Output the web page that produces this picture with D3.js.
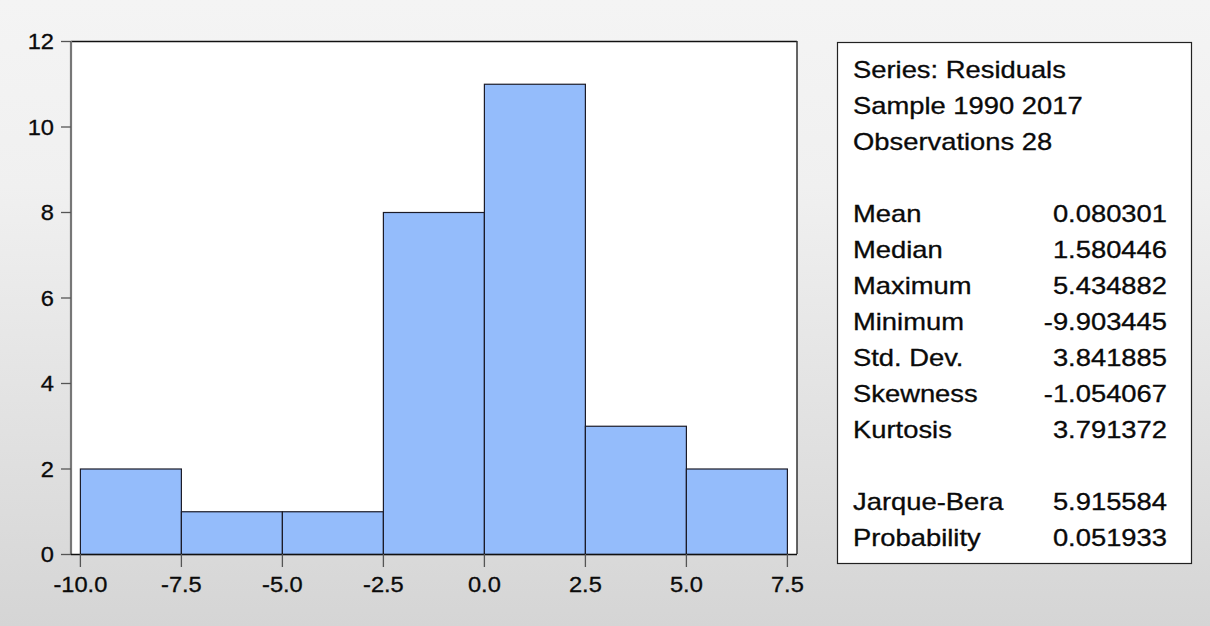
<!DOCTYPE html>
<html>
<head>
<meta charset="utf-8">
<script src="https://cdn.jsdelivr.net/npm/d3@7"></script>
<style>
  html, body { margin: 0; padding: 0; background: #e6e6e6; }
  svg { display: block; }
  text { font-family: "Liberation Sans", Arial, sans-serif; fill: #0a0a0a; stroke: #0a0a0a; stroke-width: 0.3px; }
</style>
</head>
<body>
<svg id="chart" width="1210" height="626"></svg>
<script>
// Histogram of residuals: bin edges and counts
const binStarts = [-10.0, -7.5, -5.0, -2.5, 0.0, 2.5, 5.0];
const binWidth = 2.5;
const binCounts = [2, 1, 1, 8, 11, 3, 2];

// Axis ticks
const xTickValues = [-10.0, -7.5, -5.0, -2.5, 0.0, 2.5, 5.0, 7.5];
const yTickValues = [0, 2, 4, 6, 8, 10, 12];

// Descriptive statistics panel
const headerLines = ["Series: Residuals", "Sample 1990 2017", "Observations 28"];
const statNames = ["Mean", "Median", "Maximum", "Minimum", "Std. Dev.", "Skewness", "Kurtosis"];
const statValues = ["0.080301", "1.580446", "5.434882", "-9.903445", "3.841885", "-1.054067", "3.791372"];
const testNames = ["Jarque-Bera", "Probability"];
const testValues = ["5.915584", "0.051933"];

const svg = d3.select("#chart");
const W = 1210, H = 626;

// background gradient
const defs = svg.append("defs");
const grad = defs.append("linearGradient")
  .attr("id", "bg").attr("x1", 0).attr("y1", 0).attr("x2", 0).attr("y2", 1);
grad.append("stop").attr("offset", "0%").attr("stop-color", "#f4f4f4");
grad.append("stop").attr("offset", "30%").attr("stop-color", "#f0f0f0");
grad.append("stop").attr("offset", "100%").attr("stop-color", "#d5d5d5");
svg.append("rect").attr("width", W).attr("height", H).attr("fill", "url(#bg)");

const plot = { left: 71, right: 797, top: 41, bottom: 554 };
const x = d3.scaleLinear().domain([-10.22, 7.75]).range([plot.left, plot.right]);
const y = d3.scaleLinear().domain([0, 12]).range([plot.bottom, plot.top]);

// text glyphs are drawn slightly wide
const AX_SX = 1.1, ST_SX = 1.19;
const AX_FS = "21.5px", ST_FS = "23px";
const fmtX = d => d3.format(".1f")(d).replace("\u2212", "-");

// plot area
svg.append("rect")
  .attr("x", plot.left).attr("y", plot.top)
  .attr("width", plot.right - plot.left).attr("height", plot.bottom - plot.top)
  .attr("fill", "#ffffff");

// bars
svg.append("g").selectAll("rect")
  .data(binStarts.map((s, i) => ({ x0: s, x1: s + binWidth, n: binCounts[i] })))
  .join("rect")
  .attr("x", d => x(d.x0) + 0.5)
  .attr("y", d => y(d.n) + 0.5)
  .attr("width", d => x(d.x1) - x(d.x0))
  .attr("height", d => y(0) - y(d.n))
  .attr("fill", "#94bcfb")
  .attr("stroke", "#1c1c28")
  .attr("stroke-width", 1.2);

// frame
svg.append("line").attr("x1", plot.left).attr("x2", plot.right)
  .attr("y1", plot.top + 0.5).attr("y2", plot.top + 0.5)
  .attr("stroke", "#111").attr("stroke-width", 1.5);
svg.append("line").attr("x1", plot.right).attr("x2", plot.right)
  .attr("y1", plot.top).attr("y2", plot.bottom)
  .attr("stroke", "#333").attr("stroke-width", 1.5);
svg.append("line").attr("x1", plot.left).attr("x2", plot.left)
  .attr("y1", plot.top).attr("y2", plot.bottom)
  .attr("stroke", "#777").attr("stroke-width", 2.2);
svg.append("line").attr("x1", plot.left).attr("x2", plot.right)
  .attr("y1", plot.bottom + 0.5).attr("y2", plot.bottom + 0.5)
  .attr("stroke", "#111").attr("stroke-width", 1.5);

// y axis
const yAxis = svg.append("g")
  .attr("transform", `translate(${plot.left},0)`)
  .call(d3.axisLeft(y).tickValues(yTickValues).tickSize(10).tickFormat(d3.format("d")));
yAxis.select(".domain").remove();
yAxis.selectAll(".tick line").attr("stroke", "#555").attr("stroke-width", 1.3);
yAxis.selectAll(".tick text")
  .attr("x", -17 / AX_SX).attr("dy", "0.36em")
  .attr("transform", `scale(${AX_SX},1)`)
  .style("font-size", AX_FS).style("font-family", "'Liberation Sans', Arial, sans-serif")
  .attr("fill", "#0a0a0a");

// x axis
const xAxis = svg.append("g")
  .attr("transform", `translate(0,${plot.bottom})`)
  .call(d3.axisBottom(x).tickValues(xTickValues).tickSize(13).tickFormat(fmtX));
xAxis.select(".domain").remove();
xAxis.selectAll(".tick line").attr("stroke", "#555").attr("stroke-width", 1.3);
xAxis.selectAll(".tick text")
  .attr("y", 38).attr("dy", 0)
  .attr("transform", `scale(${AX_SX},1)`)
  .style("font-size", AX_FS).style("font-family", "'Liberation Sans', Arial, sans-serif")
  .attr("fill", "#0a0a0a");

// statistics panel
const box = { left: 837, right: 1191, top: 42, bottom: 563 };
svg.append("rect")
  .attr("x", box.left + 0.5).attr("y", box.top + 0.5)
  .attr("width", box.right - box.left).attr("height", box.bottom - box.top)
  .attr("fill", "#ffffff").attr("stroke", "#222").attr("stroke-width", 1.2);

const rows = [];
headerLines.forEach(t => rows.push({ label: t, value: null }));
rows.push(null);
statNames.forEach((t, i) => rows.push({ label: t, value: statValues[i] }));
rows.push(null);
testNames.forEach((t, i) => rows.push({ label: t, value: testValues[i] }));

const firstBaseline = 78, lineStep = 36;
const labelX = 853, valueX = 1167;
const panel = svg.append("g");
rows.forEach((r, i) => {
  if (!r) return;
  const by = firstBaseline + i * lineStep;
  panel.append("text")
    .attr("transform", `translate(${labelX},${by}) scale(${ST_SX},1)`)
    .style("font-size", ST_FS)
    .text(r.label);
  if (r.value !== null) {
    panel.append("text")
      .attr("transform", `translate(${valueX},${by}) scale(${ST_SX},1)`)
      .attr("text-anchor", "end")
      .style("font-size", ST_FS)
      .text(r.value);
  }
});
</script>
</body>
</html>
